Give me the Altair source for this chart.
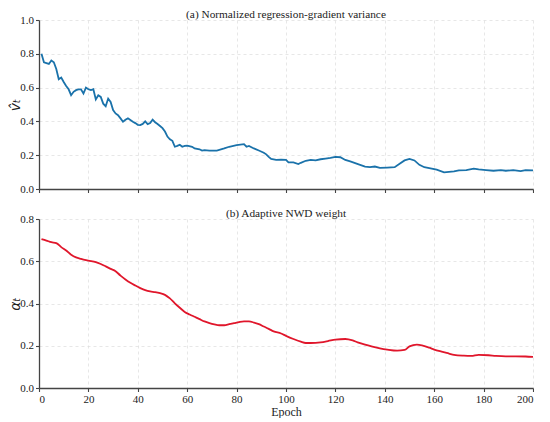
import altair as alt
import pandas as pd

# (a) Normalized regression-gradient variance
epoch_a = [1, 2, 3, 4, 5, 6, 7, 8, 9, 10, 11, 12, 13, 14, 15, 16, 17, 18, 19, 20,
           21, 22, 23, 24, 25, 26, 27, 28, 29, 30, 31, 32, 33, 34, 35, 36, 37, 38, 39, 40,
           41, 42, 43, 44, 45, 46, 47, 48, 49, 50, 51, 52, 53, 54, 55, 56, 57, 58, 59, 60,
           62, 63, 65, 66, 67, 69, 72, 75, 77, 80, 83, 84, 85, 87, 89, 91, 92, 93, 94, 96,
           98, 100, 101, 103, 105, 106, 108, 110, 112, 114, 116, 118, 120, 122, 124, 126, 128, 130,
           132, 134, 136, 138, 141, 144, 146, 148, 150, 152, 154, 156, 158, 161, 164, 168, 170,
           173, 176, 178, 181, 184, 187, 189, 192, 195, 197, 200]
value_a = [0.80, 0.75, 0.745, 0.74, 0.76, 0.75, 0.71, 0.65, 0.66, 0.633, 0.61, 0.59, 0.555, 0.575, 0.585, 0.59, 0.59, 0.565, 0.60, 0.59,
           0.585, 0.59, 0.53, 0.555, 0.545, 0.505, 0.49, 0.535, 0.515, 0.467, 0.447, 0.437, 0.418, 0.398, 0.41, 0.418, 0.408, 0.398, 0.39, 0.38,
           0.378, 0.385, 0.40, 0.384, 0.39, 0.41, 0.395, 0.385, 0.373, 0.36, 0.34, 0.31, 0.294, 0.285, 0.25, 0.255, 0.262, 0.25, 0.255, 0.257,
           0.25, 0.24, 0.235, 0.227, 0.23, 0.227, 0.227, 0.24, 0.25, 0.259, 0.265, 0.25, 0.255, 0.24, 0.228, 0.215, 0.205, 0.19, 0.178, 0.172,
           0.173, 0.172, 0.157, 0.157, 0.148, 0.155, 0.167, 0.172, 0.169, 0.176, 0.18, 0.184, 0.19, 0.188, 0.172, 0.163, 0.153, 0.143,
           0.133, 0.129, 0.133, 0.125, 0.127, 0.129, 0.149, 0.169, 0.178, 0.169, 0.143, 0.129, 0.124, 0.114, 0.098, 0.104, 0.11,
           0.112, 0.12, 0.116, 0.112, 0.108, 0.112, 0.108, 0.112, 0.106, 0.112, 0.11]

# (b) Adaptive NWD weight
epoch_b = [1, 3, 5, 7, 9, 11, 13, 15, 17, 20, 23, 25, 27, 29, 31, 33, 35, 37, 39, 41,
           43, 45, 47, 49, 51, 53, 55, 57, 59, 61, 63, 65, 67, 69, 71, 73, 75, 77, 79, 81,
           83, 85, 87, 89, 91, 93, 95, 98, 100, 103, 106, 108, 110, 114, 117, 120, 124, 127, 129, 132,
           135, 138, 141, 145, 148, 150, 153, 155, 158, 160, 163, 166, 168, 172, 175, 178, 182, 185, 189, 193,
           197, 200]
value_b = [0.705, 0.698, 0.69, 0.686, 0.667, 0.651, 0.631, 0.618, 0.611, 0.603, 0.596, 0.587, 0.576, 0.564, 0.553, 0.532, 0.514, 0.498, 0.485, 0.473,
           0.463, 0.457, 0.454, 0.449, 0.441, 0.424, 0.401, 0.38, 0.36, 0.348, 0.337, 0.326, 0.315, 0.307, 0.301, 0.297, 0.297, 0.302, 0.307, 0.312,
           0.315, 0.315, 0.31, 0.302, 0.291, 0.28, 0.268, 0.258, 0.247, 0.232, 0.219, 0.213, 0.213, 0.216, 0.222, 0.229, 0.232, 0.225, 0.216, 0.205,
           0.196, 0.188, 0.182, 0.177, 0.18, 0.197, 0.205, 0.202, 0.191, 0.182, 0.172, 0.163, 0.157, 0.153, 0.152, 0.157, 0.155, 0.152, 0.15, 0.15,
           0.149, 0.147]

x_ticks = [0, 20, 40, 60, 80, 100, 120, 140, 160, 180, 200]

df_a = pd.DataFrame({"epoch": epoch_a, "v": value_a})
df_b = pd.DataFrame({"epoch": epoch_b, "a": value_b})

SERIF = "Liberation Serif"
MATH = "DejaVu Sans"
W, H = 494, 169

def title(t):
    return alt.TitleParams(t, font=SERIF, fontSize=11.3, fontWeight="normal",
                           color="#222", anchor="middle", offset=-6)

top = alt.Chart(df_a, title=title("(a) Normalized regression-gradient variance")).mark_line(
    color="#1a72aa", strokeWidth=1.8, clip=True
).encode(
    x=alt.X("epoch:Q", scale=alt.Scale(domain=[0, 200], nice=False),
            axis=alt.Axis(values=x_ticks, labels=False, title=None)),
    y=alt.Y("v:Q", scale=alt.Scale(domain=[0, 1.0], nice=False),
            axis=alt.Axis(values=[0, 0.2, 0.4, 0.6, 0.8, 1.0], format=".1f",
                          title="v\u0302\u209c", titleFont=MATH, titleFontStyle="italic",
                          titleFontSize=14, titleFontWeight="normal", titlePadding=-3)),
).properties(width=W, height=H)

bottom = alt.Chart(df_b, title=title("(b) Adaptive NWD weight")).mark_line(
    color="#e0162b", strokeWidth=1.8, interpolate="monotone", clip=True
).encode(
    x=alt.X("epoch:Q", scale=alt.Scale(domain=[0, 200], nice=False),
            axis=alt.Axis(values=x_ticks, format="d", title="Epoch",
                          titleFont=SERIF, titleFontSize=12, titleFontWeight="normal",
                          titleColor="#222", titlePadding=2)),
    y=alt.Y("a:Q", scale=alt.Scale(domain=[0, 0.8], nice=False),
            axis=alt.Axis(values=[0, 0.2, 0.4, 0.6, 0.8], format=".1f",
                          title="\u03b1\u209c", titleFont=MATH, titleFontStyle="italic",
                          titleFontSize=14, titleFontWeight="normal", titlePadding=-3)),
).properties(width=W, height=H)

chart = alt.vconcat(top, bottom, spacing=13).properties(
    padding={"left": 0, "top": 0, "right": 0, "bottom": 0}
).configure_view(stroke=None).configure_axis(
    domainColor="#444", domainWidth=1.3, tickColor="#444", tickWidth=1.1, tickSize=3.5,
    labelFont=SERIF, labelFontSize=11, labelColor="#222", labelPadding=2,
    grid=True, gridColor="#dcdcdc", gridDash=[3, 3], gridWidth=0.7,
    titleColor="#222",
)

chart.save("out.html", embed_options={"renderer": "svg", "actions": False})
